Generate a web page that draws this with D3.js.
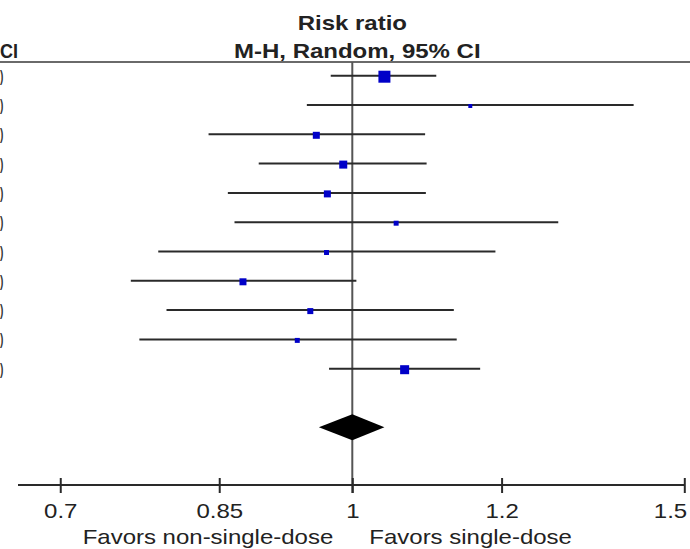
<!DOCTYPE html>
<html>
<head>
<meta charset="utf-8">
<script src="https://cdn.jsdelivr.net/npm/d3@7"></script>
<style>
  html, body { margin: 0; padding: 0; background: #fff; }
  svg { display: block; }
  text { font-family: "Liberation Sans", Arial, sans-serif; }
</style>
</head>
<body>
<svg id="chart" width="690" height="549"></svg>
<script>
// ---- data ----
const rr       = [1.04, 1.155, 0.957, 0.989, 0.970, 1.055, 0.969, 0.875, 0.950, 0.935, 1.066];
const lower    = [0.974, 0.946, 0.839, 0.892, 0.859, 0.866, 0.789, 0.763, 0.797, 0.771, 0.972];
const upper    = [1.108, 1.410, 1.093, 1.095, 1.094, 1.286, 1.191, 1.005, 1.132, 1.136, 1.169];
const weight   = [25.6, 2.8, 8.7, 11.4, 8.7, 4.4, 4.4, 8.7, 6.4, 4.4, 14.4];
const pooledRR = [1.00, 0.96, 1.04];           // estimate, lower, upper
const tickValues = [0.7, 0.85, 1, 1.2, 1.5];
const tickLabels = ["0.7", "0.85", "1", "1.2", "1.5"];
const titleLines = ["Risk ratio", "M-H, Random, 95% CI"];
const leftHeader = "CI";
const rowTails   = [")", ")", ")", ")", ")", ")", ")", ")", ")", ")", ")"];
const favorLabels = ["Favors non-single-dose", "Favors single-dose"];

// ---- layout ----
const W = 690, H = 549;
const sx = 1.2;           // horizontal stretch of the lettering in the source image
const svg = d3.select("#chart");

const x = d3.scaleLog().domain([1 / 1.5, 1.5]).range([20.3, 684.3]);
const y = d3.scaleLinear().domain([0, 12]).range([75.7, 427.3]);
const size = d3.scaleSqrt().domain([0, d3.max(weight)]).range([0, 12]);

const headerY = 62, axisY = 485;

// titles
svg.append("text")
  .attr("transform", `translate(${x(1)},30) scale(${sx},1)`)
  .attr("text-anchor", "middle").attr("font-size", 20).attr("font-weight", "bold")
  .attr("fill", "#222").text(titleLines[0]);
svg.append("text")
  .attr("transform", `translate(${x(1) + 5},58) scale(${sx},1)`)
  .attr("text-anchor", "middle").attr("font-size", 20).attr("font-weight", "bold")
  .attr("fill", "#222").text(titleLines[1]);
// left column header remnant
svg.append("text")
  .attr("transform", `translate(0,58) scale(0.9,1)`)
  .attr("text-anchor", "start").attr("font-size", 20).attr("font-weight", "bold")
  .attr("fill", "#222").text(leftHeader);

// header rule
svg.append("line").attr("x1", 0).attr("x2", W).attr("y1", headerY).attr("y2", headerY)
  .attr("stroke", "#6a6a6a").attr("stroke-width", 2);

// left column value remnants
svg.append("g").selectAll("text").data(rowTails).join("text")
  .attr("transform", (d, i) => `translate(0,${y(i) + 6}) scale(0.6,1)`)
  .attr("text-anchor", "start").attr("font-size", 17).attr("font-weight", "bold")
  .attr("fill", "#333").text(d => d);

// line of no effect
svg.append("line").attr("x1", x(1)).attr("x2", x(1)).attr("y1", headerY).attr("y2", axisY + 8)
  .attr("stroke", "#555").attr("stroke-width", 2);

// CI lines
const rows = rr.map((d, i) => ({ i, rr: d, lo: lower[i], hi: upper[i], w: weight[i] }));
svg.append("g").selectAll("line").data(rows).join("line")
  .attr("x1", d => x(d.lo)).attr("x2", d => x(d.hi))
  .attr("y1", d => y(d.i)).attr("y2", d => y(d.i))
  .attr("stroke", "#2a2a2a").attr("stroke-width", 2);

// squares
svg.append("g").selectAll("rect").data(rows).join("rect")
  .attr("x", d => x(d.rr) - size(d.w) / 2)
  .attr("y", d => y(d.i) - size(d.w) / 2 + 1)
  .attr("width", d => size(d.w)).attr("height", d => size(d.w))
  .attr("fill", "#0000c8");

// pooled diamond
const dy = y(12), dh = 13;
svg.append("path")
  .attr("d", `M${x(pooledRR[1])},${dy} L${x(pooledRR[0])},${dy - dh} L${x(pooledRR[2])},${dy} L${x(pooledRR[0])},${dy + dh} Z`)
  .attr("fill", "#000");

// axis line
svg.append("line").attr("x1", 18).attr("x2", x(1.5)).attr("y1", axisY).attr("y2", axisY)
  .attr("stroke", "#2a2a2a").attr("stroke-width", 2);

// ticks and labels via d3 axis
const axis = d3.axisBottom(x).tickValues(tickValues)
  .tickFormat((d, i) => tickLabels[i]).tickSize(15).tickPadding(11);
const ag = svg.append("g").attr("transform", `translate(0,${axisY - 7})`).call(axis);
ag.select(".domain").remove();
ag.selectAll(".tick line").attr("stroke", "#2a2a2a").attr("stroke-width", 2);
ag.selectAll(".tick text")
  .attr("font-size", 20).attr("font-family", "Liberation Sans, Arial, sans-serif")
  .attr("fill", "#222")
  .attr("x", 0)
  .attr("transform", d => {
    // keep the last label inside the picture, as in the source
    const shift = Math.min(0, (W - 3) - (x(d) + 17));
    return `translate(${shift},0) scale(${sx},1)`;
  });

// favors labels
svg.append("text")
  .attr("transform", `translate(${x(1) - 19},544) scale(${sx},1)`)
  .attr("text-anchor", "end").attr("font-size", 20).attr("fill", "#222").text(favorLabels[0]);
svg.append("text")
  .attr("transform", `translate(${x(1) + 17},544) scale(${sx},1)`)
  .attr("text-anchor", "start").attr("font-size", 20).attr("fill", "#222").text(favorLabels[1]);
</script>
</body>
</html>
